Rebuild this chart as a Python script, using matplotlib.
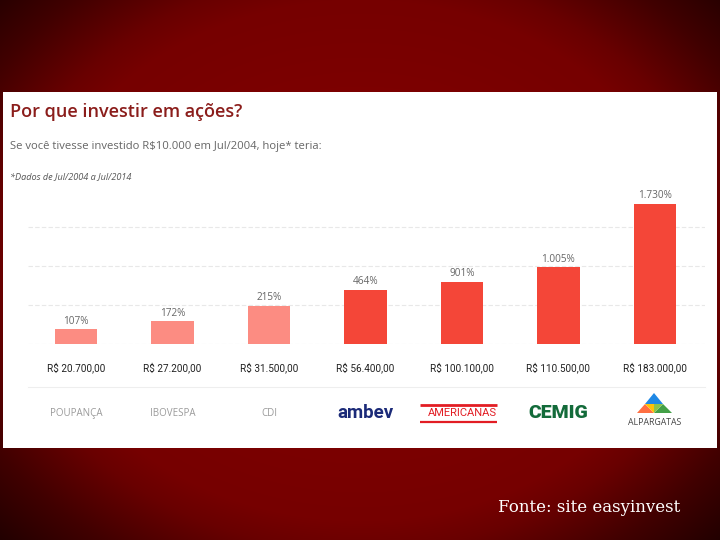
import numpy as np
import matplotlib
matplotlib.use("Agg")
import matplotlib.pyplot as plt
from matplotlib.patches import Rectangle, Polygon

# data
categorias = ["POUPANÇA", "IBOVESPA", "CDI", "ambev", "AMERICANAS", "CEMIG", "ALPARGATAS"]
rentab = ["107%", "172%", "215%", "464%", "901%", "1.005%", "1.730%"]
valores = ["R$ 20.700,00", "R$ 27.200,00", "R$ 31.500,00", "R$ 56.400,00",
           "R$ 100.100,00", "R$ 110.500,00", "R$ 183.000,00"]
# bar heights as drawn in the original graphic (not to scale with the %)
alturas = [15, 23, 38, 54, 62, 77, 140]
grade = [0, 39, 78, 117]

COR_CLARA = "#fc8c82"
COR_FORTE = "#f44638"
cores = [COR_CLARA] * 3 + [COR_FORTE] * 4

W, H = 720, 540
fig = plt.figure(figsize=(W / 100, H / 100), dpi=100)

# background: radial dark red gradient, drawn in pixel coords
bg = fig.add_axes([0, 0, 1, 1])
yy, xx = np.mgrid[0:H, 0:W]
d = np.sqrt(((xx - 360) / 360.0) ** 2 + ((yy - 260) / 290.0) ** 2)
red = np.interp(d, [0, 0.9, 1.0, 1.2, 1.4], [136, 118, 105, 65, 32]) / 255.0
img = np.dstack([red, np.zeros_like(red), np.zeros_like(red)])
bg.imshow(img, extent=(0, W, H, 0), aspect="auto")
bg.set_xlim(0, W)
bg.set_ylim(H, 0)
bg.axis("off")

# white screenshot panel
bg.add_patch(Rectangle((3, 92), 714, 356, facecolor="white", edgecolor="none"))

bg.text(10, 112, "Por que investir em ações?", fontsize=13, fontweight="semibold",
        family="Open Sans", color="#8b1d1b", va="center", ha="left")
bg.text(10, 146, "Se você tivesse investido R$10.000 em Jul/2004, hoje* teria:",
        fontsize=8.1, family="Open Sans", color="#666666", va="center", ha="left")
bg.text(10, 177, "*Dados de Jul/2004 a Jul/2014", fontsize=6.6, family="Open Sans",
        style="italic", color="#555555", va="center", ha="left")

# separator above the logos
bg.plot([28, 705], [387, 387], color="#eeeeee", lw=0.8)

bg.text(498, 507, "Fonte: site easyinvest", fontsize=12, family="DejaVu Serif",
        color="white", va="center", ha="left")

# bar chart
ax = fig.add_axes([28 / W, 1 - 344 / H, (705 - 28) / W, (344 - 190) / H])
ax.patch.set_alpha(0)
x = np.arange(len(alturas))
ax.bar(x, alturas, width=0.44, color=cores, zorder=3)
for g in grade:
    ax.axhline(g, color="#e8e8e8", lw=0.8, ls=(0, (4, 2)), zorder=1)
ax.set_xlim(-0.5, 6.52)
ax.set_ylim(0, 154)
for s in ax.spines.values():
    s.set_visible(False)
ax.set_xticks([])
ax.set_yticks([])

for i, (h, r, v) in enumerate(zip(alturas, rentab, valores)):
    ax.text(i, h + 8, r, ha="center", va="center", fontsize=7.2,
            family="Open Sans", color="#666666")
    ax.text(i, -24, v, ha="center", va="center", fontsize=7.2,
            family="Roboto", color="#222222", clip_on=False)

# logo row (approximated with styled text)
estilos = [
    dict(color="#9a9a9a", fontsize=7, family="Open Sans"),
    dict(color="#9a9a9a", fontsize=7, family="Open Sans"),
    dict(color="#9a9a9a", fontsize=7, family="Open Sans"),
    dict(color="#1b2a78", fontsize=13.5, family="Roboto", fontweight="bold"),
    dict(color="#e21d24", fontsize=8, family="Roboto"),
    dict(color="#136b3a", fontsize=14, family="Roboto", fontweight="black"),
    dict(color="#444444", fontsize=6.3, family="Open Sans"),
]
for i, (nome, est) in enumerate(zip(categorias, estilos)):
    yl = -69
    if nome == "ALPARGATAS":
        yl = -78
    ax.text(i, yl, nome, ha="center", va="center", clip_on=False, **est)

# americanas red bands
bg.plot([420, 497], [405, 405], color="#e21d24", lw=2.0, solid_capstyle="butt")
bg.plot([420, 497], [422, 422], color="#e21d24", lw=1.6, solid_capstyle="butt")

# alpargatas triangle mark
tri = [
    ([654, 393], [645, 404], [663, 404], "#1e88e5"),
    ([645, 404], [637, 413], [654, 413], "#ff7043"),
    ([645, 404], [654, 413], [654, 404], "#ffc107"),
    ([663, 404], [654, 413], [672, 413], "#43a047"),
    ([654, 404], [663, 404], [654, 413], "#8bc34a"),
]
for a, b, c, col in tri:
    bg.add_patch(Polygon([a, b, c], closed=True, facecolor=col, edgecolor="none"))

fig.savefig("out.png", dpi=100)
